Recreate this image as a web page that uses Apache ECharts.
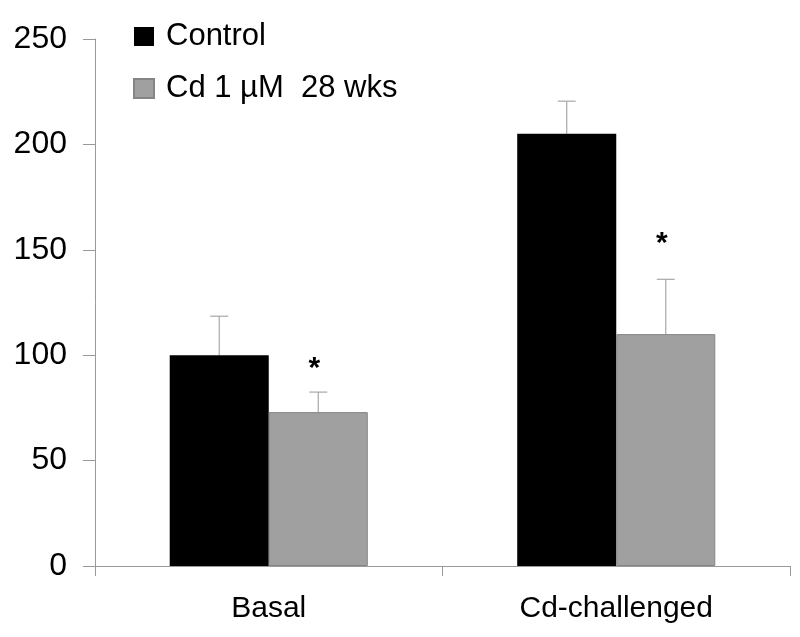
<!DOCTYPE html>
<html>
<head>
<meta charset="utf-8">
<script src="https://cdn.jsdelivr.net/npm/echarts@6/dist/echarts.min.js"></script>
<style>html,body{margin:0;padding:0;background:#fff}#c{width:800px;height:637px}</style>
</head>
<body>
<div id="c"></div>
<script>
const categories = ['Basal', 'Cd-challenged'];
const seriesNames = ['Control', 'Cd 1 \u00b5M  28 wks'];
const controlValues = [100, 205];
const cdValues = [73, 110];
const controlErr = [18.5, 15.5];
const cdErr = [9.5, 26];
const asteriskValues = [93.5, 153];
const yTicks = [0, 50, 100, 150, 200, 250];

const FONT = 'Liberation Sans, Arial, sans-serif';
const GAP = 0.43;

const chart = echarts.init(document.getElementById('c'), null, {renderer: 'canvas'});

function errRender(values, errs, side) {
  return function (params, api) {
    const i = params.dataIndex;
    const bandW = api.size([1, 0])[0];
    const barW = bandW * (1 - GAP) / 2;
    const base = api.coord([i, values[i]]);
    const top = api.coord([i, values[i] + errs[i]]);
    const x = base[0] + side * barW / 2;
    const cap = 9;
    const style = {stroke: '#a8a8a8', lineWidth: 1.2};
    return {
      type: 'group',
      children: [
        {type: 'line', shape: {x1: x, y1: base[1], x2: x, y2: top[1]}, style: style},
        {type: 'line', shape: {x1: x - cap, y1: top[1], x2: x + cap, y2: top[1]}, style: style}
      ]
    };
  };
}

function starRender(params, api) {
  const i = params.dataIndex;
  const bandW = api.size([1, 0])[0];
  const barW = bandW * (1 - GAP) / 2;
  const p = api.coord([i, asteriskValues[i]]);
  return {
    type: 'text',
    style: {
      text: '*', x: p[0] + barW / 2 - 4, y: p[1], align: 'center', verticalAlign: 'middle',
      font: 'bold 30px ' + FONT, fill: '#000'
    }
  };
}

chart.setOption({
  animation: false,
  backgroundColor: '#fff',
  grid: {left: 95, right: 10, top: 39, bottom: 71, containLabel: false},
  legend: {
    orient: 'vertical', left: 128, top: 16, itemWidth: 20, itemHeight: 19, itemGap: 21,
    icon: 'rect',
    data: seriesNames,
    textStyle: {fontFamily: FONT, fontSize: 31, color: '#000', padding: [0, 0, 0, 7]}
  },
  xAxis: {
    type: 'category', data: categories,
    axisLine: {lineStyle: {color: '#999', width: 1}},
    axisTick: {show: true, length: 10, alignWithLabel: false, lineStyle: {color: '#999'}},
    axisLabel: {fontFamily: FONT, fontSize: 30, color: '#000', margin: 28}
  },
  yAxis: {
    type: 'value', min: 0, max: 250, interval: 50,
    splitLine: {show: false},
    axisLine: {show: true, lineStyle: {color: '#999', width: 1}},
    axisTick: {show: true, length: 12, lineStyle: {color: '#999'}},
    axisLabel: {fontFamily: FONT, fontSize: 32, color: '#000', margin: 28,
      formatter: function (v) { return yTicks.indexOf(v) >= 0 ? String(v) : ''; }}
  },
  series: [
    {name: seriesNames[0], type: 'bar', data: controlValues, barGap: '0%', barCategoryGap: (GAP * 100) + '%',
      itemStyle: {color: '#000'}},
    {name: seriesNames[1], type: 'bar', data: cdValues,
      itemStyle: {color: '#a0a0a0', borderColor: '#858585', borderWidth: 1}},
    {type: 'custom', renderItem: errRender(controlValues, controlErr, -1), data: controlValues, z: 1, silent: true},
    {type: 'custom', renderItem: errRender(cdValues, cdErr, 1), data: cdValues, z: 1, silent: true},
    {type: 'custom', renderItem: starRender, data: asteriskValues, z: 5, silent: true}
  ]
});
</script>
</body>
</html>
